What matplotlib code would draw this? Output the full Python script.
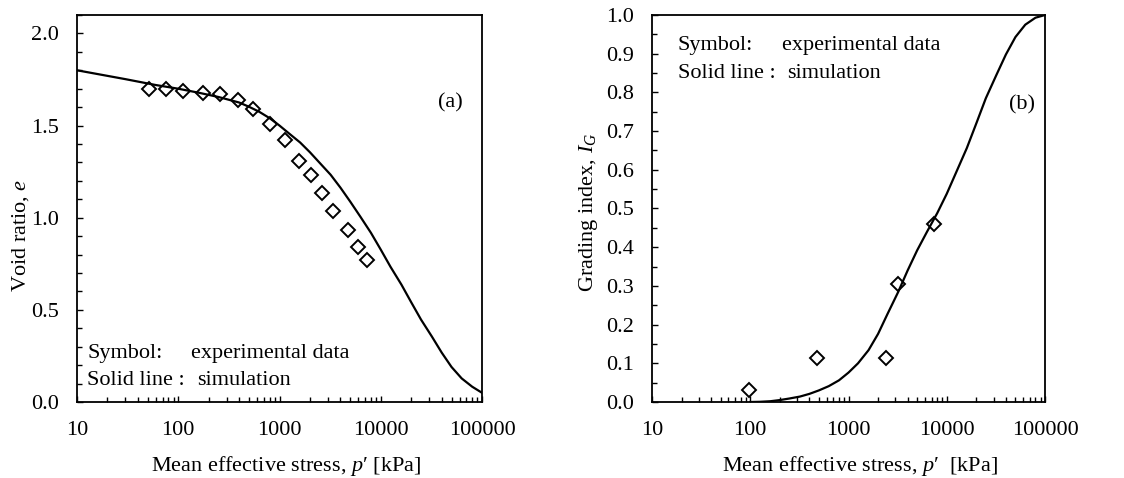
import matplotlib
matplotlib.use('Agg')
import matplotlib.pyplot as plt
from matplotlib.ticker import MultipleLocator, LogLocator, NullFormatter, FormatStrFormatter

plt.rcParams['font.family'] = 'Liberation Serif'
plt.rcParams['mathtext.fontset'] = 'custom'
plt.rcParams['mathtext.rm'] = 'Liberation Serif'
plt.rcParams['mathtext.it'] = 'Liberation Serif:italic'

# (a) void ratio - experimental points
p_exp_a = [51, 76, 112, 174, 259, 389, 547, 802, 1127, 1552, 2035, 2611, 3397, 4775, 5910, 7265]
e_exp = [1.696, 1.700, 1.687, 1.676, 1.671, 1.639, 1.588, 1.507, 1.421, 1.308,
         1.232, 1.136, 1.036, 0.933, 0.843, 0.769]

# (a) simulation curve
p_sim_a = [10, 30, 60, 100, 160, 250, 400, 500, 630, 800, 1000, 1250, 1600, 2000, 2500, 3200,
           4000, 5000, 6300, 8000, 10000, 12500, 16000, 20000, 25000, 32000, 40000, 50000,
           63000, 80000, 100000]
e_sim = [1.800, 1.752, 1.720, 1.700, 1.678, 1.655, 1.625, 1.602, 1.575, 1.540, 1.500, 1.456,
         1.408, 1.355, 1.297, 1.233, 1.163, 1.087, 1.005, 0.918, 0.827, 0.733, 0.637, 0.541,
         0.447, 0.355, 0.268, 0.190, 0.128, 0.083, 0.050]

# (b) grading index - experimental points
p_exp_b = [96, 477, 2388, 3162, 7345]
ig_exp = [0.030, 0.114, 0.114, 0.306, 0.459]

# (b) simulation curve
p_sim_b = [100, 125, 160, 200, 250, 320, 400, 500, 630, 800, 1000, 1250, 1600, 2000, 2500,
           3200, 4000, 5000, 6300, 8000, 10000, 12500, 16000, 20000, 25000, 32000, 40000,
           50000, 63000, 80000, 100000]
ig_sim = [0.0, 0.0005, 0.002, 0.005, 0.009, 0.014, 0.021, 0.030, 0.041, 0.056, 0.076, 0.100,
          0.134, 0.176, 0.228, 0.284, 0.340, 0.392, 0.440, 0.488, 0.538, 0.594, 0.656, 0.720,
          0.785, 0.845, 0.898, 0.943, 0.975, 0.993, 1.0]

x_ticks = [10, 100, 1000, 10000, 100000]
x_labels = ['10', '100', '1000', '10000', '100000']

fig = plt.figure(figsize=(11.24, 4.78), dpi=100)
ax1 = fig.add_axes([77 / 1124, 76 / 478, 405 / 1124, 387 / 478])
ax2 = fig.add_axes([652 / 1124, 76 / 478, 393 / 1124, 387 / 478])

for ax in (ax1, ax2):
    ax.set_xscale('log')
    ax.set_xlim(10, 100000)
    ax.set_xticks(x_ticks)
    ax.set_xticklabels(x_labels)
    ax.xaxis.set_minor_locator(LogLocator(base=10, subs=range(2, 10)))
    ax.xaxis.set_minor_formatter(NullFormatter())
    ax.tick_params(which='both', direction='in', top=False, right=False,
                   labelsize=16, width=1, color='black')
    ax.tick_params(which='major', length=4.5)
    ax.tick_params(which='minor', length=3.5)
    ax.tick_params(axis='x', pad=14)
    ax.tick_params(axis='y', pad=13)
    for s in ax.spines.values():
        s.set_linewidth(1.3)

txt = dict(fontsize=16, va='baseline')

# panel (a)
ax1.plot(p_sim_a, e_sim, color='black', lw=1.6)
ax1.plot(p_exp_a, e_exp, ls='none', marker='D', ms=7.5, mfc='none', mec='black', mew=1.4)
ax1.set_ylim(0, 2.1)
ax1.yaxis.set_major_locator(MultipleLocator(0.5))
ax1.yaxis.set_minor_locator(MultipleLocator(0.1))
ax1.yaxis.set_major_formatter(FormatStrFormatter('%.1f'))
ax1.set_ylabel('Void ratio, $e$', fontsize=16)
ax1.set_xlabel('Mean effective stress, $p$\u2032 [kPa]', fontsize=16)
ax1.yaxis.set_label_coords(-0.113, 0.43)
ax1.xaxis.set_label_coords(0.516, -0.135)
ax1.text(0.921, 0.762, '(a)', transform=ax1.transAxes, ha='center', **txt)
ax1.text(0.025, 0.114, 'Symbol:', transform=ax1.transAxes, **txt)
ax1.text(0.281, 0.114, 'experimental data', transform=ax1.transAxes, **txt)
ax1.text(0.025, 0.044, 'Solid line :', transform=ax1.transAxes, **txt)
ax1.text(0.296, 0.044, 'simulation', transform=ax1.transAxes, **txt)

# panel (b)
ax2.plot(p_sim_b, ig_sim, color='black', lw=1.6)
ax2.plot(p_exp_b, ig_exp, ls='none', marker='D', ms=7.5, mfc='none', mec='black', mew=1.4)
ax2.set_ylim(0, 1.0)
ax2.yaxis.set_major_locator(MultipleLocator(0.1))
ax2.yaxis.set_minor_locator(MultipleLocator(0.05))
ax2.yaxis.set_major_formatter(FormatStrFormatter('%.1f'))
ax2.set_ylabel('Grading index, $I_G$', fontsize=16)
ax2.set_xlabel('Mean effective stress, $p$\u2032  [kPa]', fontsize=16)
ax2.yaxis.set_label_coords(-0.132, 0.49)
ax2.xaxis.set_label_coords(0.53, -0.135)
ax2.text(0.941, 0.755, '(b)', transform=ax2.transAxes, ha='center', **txt)
ax2.text(0.066, 0.91, 'Symbol:', transform=ax2.transAxes, **txt)
ax2.text(0.331, 0.91, 'experimental data', transform=ax2.transAxes, **txt)
ax2.text(0.066, 0.837, 'Solid line :', transform=ax2.transAxes, **txt)
ax2.text(0.344, 0.837, 'simulation', transform=ax2.transAxes, **txt)

fig.savefig('out.png', dpi=100)
